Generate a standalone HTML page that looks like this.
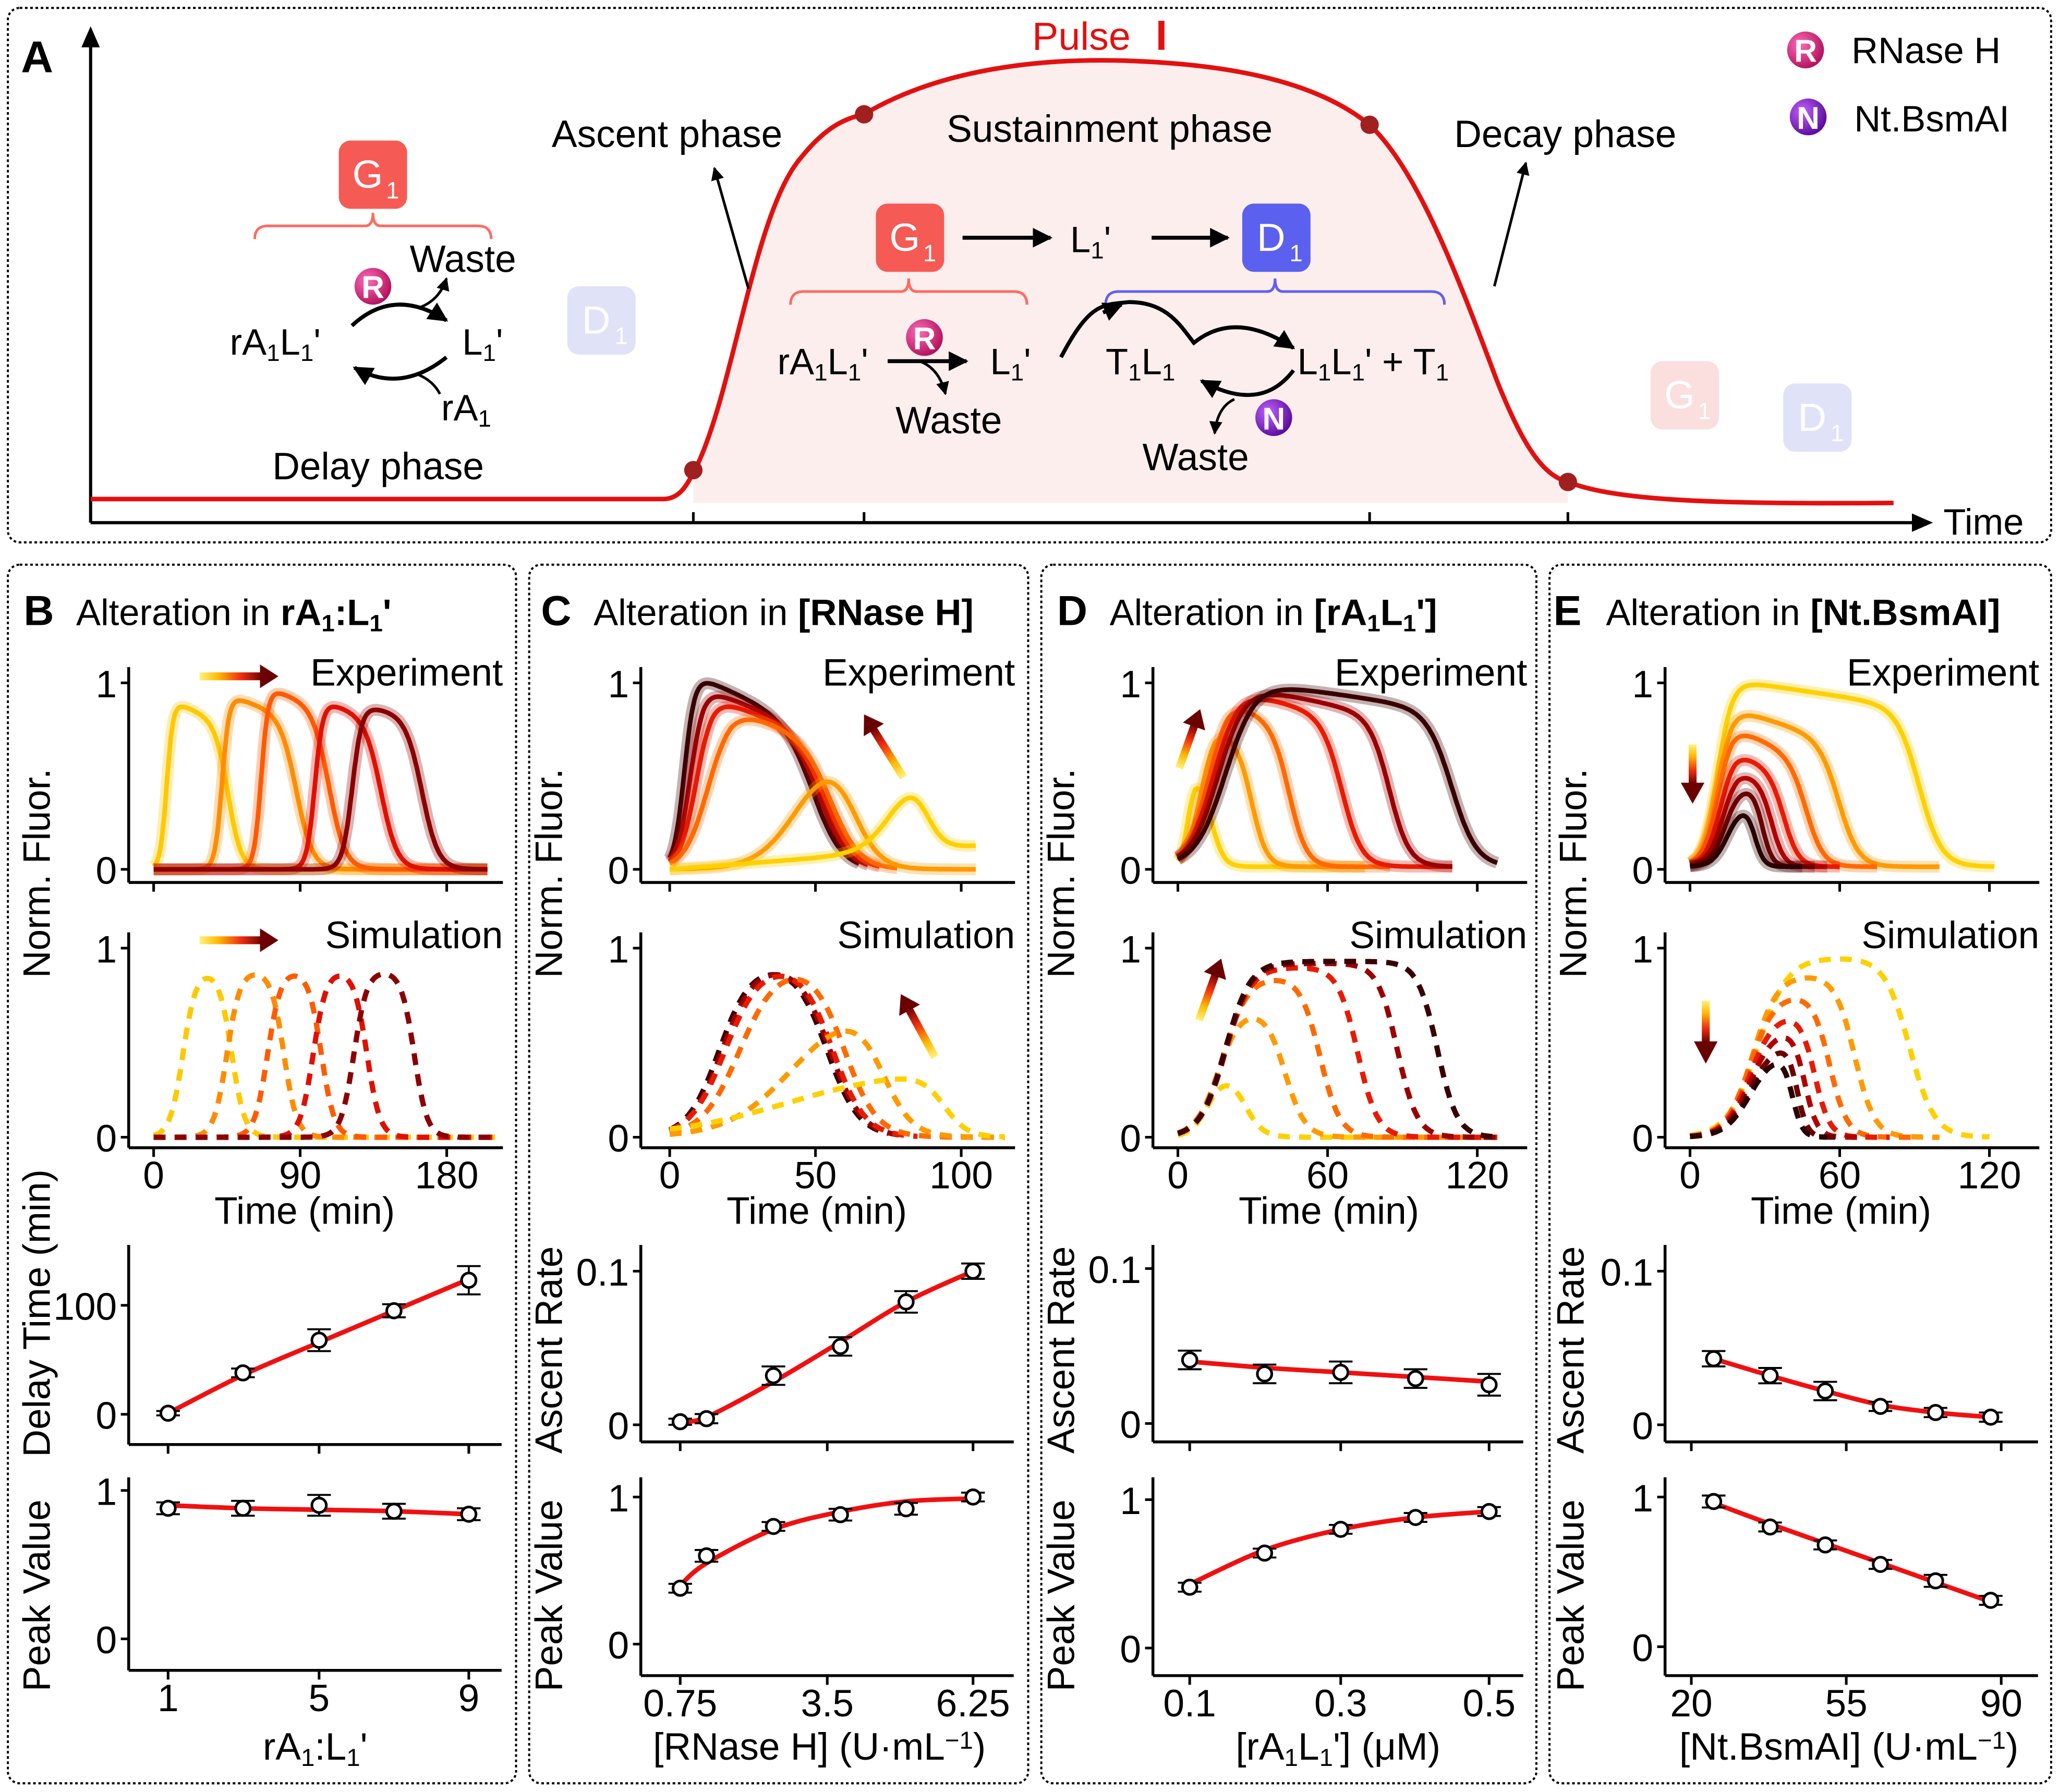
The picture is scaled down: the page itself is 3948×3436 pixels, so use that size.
<!DOCTYPE html>
<html><head><meta charset="utf-8"><style>
html,body{margin:0;padding:0;background:#fff;}
svg{display:block;}
text{font-family:"Liberation Sans Narrow","Liberation Sans",sans-serif;fill:#000;}
</style></head><body>
<svg id="s" xmlns="http://www.w3.org/2000/svg" width="3948" height="3436" viewBox="0 0 1568 1364.6">
<defs>
<linearGradient id="gh" x1="0" y1="0" x2="1" y2="0"><stop offset="0" stop-color="#FFF27A"/><stop offset="0.3" stop-color="#FFB800"/><stop offset="0.65" stop-color="#F03010"/><stop offset="1" stop-color="#6a0000"/></linearGradient>
<linearGradient id="gv" x1="0" y1="0" x2="0" y2="1"><stop offset="0" stop-color="#FFF27A"/><stop offset="0.3" stop-color="#FFB800"/><stop offset="0.65" stop-color="#F03010"/><stop offset="1" stop-color="#6a0000"/></linearGradient>
<radialGradient id="gr" cx="0.35" cy="0.35" r="0.7"><stop offset="0" stop-color="#ff6ab8"/><stop offset="1" stop-color="#b0105a"/></radialGradient>
<radialGradient id="gn" cx="0.35" cy="0.35" r="0.7"><stop offset="0" stop-color="#c060ff"/><stop offset="1" stop-color="#5a0a9a"/></radialGradient>
<marker id="ah" viewBox="0 0 10 10" refX="9" refY="5" markerWidth="5" markerHeight="5" orient="auto"><path d="M0,0L10,5L0,10z" fill="#000"/></marker>
</defs>
<g id="root"></g>
</svg>
<script>
var root=document.getElementById('root'),out=[];
function add(s){out.push(s);}
function T(x,y,s,sz,anc,extra){add('<text x="'+x+'" y="'+y+'" font-size="'+sz+'" text-anchor="'+(anc||'start')+'" '+(extra||'')+'>'+s+'</text>');}
function L(x1,y1,x2,y2,w,c,extra){add('<line x1="'+x1+'" y1="'+y1+'" x2="'+x2+'" y2="'+y2+'" stroke="'+(c||'#000')+'" stroke-width="'+(w||2)+'" '+(extra||'')+'/>');}
function box(x,y,w,h){add('<rect x="'+x+'" y="'+y+'" width="'+w+'" height="'+h+'" rx="9" fill="none" stroke="#000" stroke-width="1.6" stroke-dasharray="2,2"/>');}
var sub=function(s){return '<tspan font-size="0.65em" baseline-shift="-25%">'+s+'</tspan>';};
var sup='<tspan font-size="0.65em" baseline-shift="45%">−1</tspan>';
box(6,6,1556,407);
add('<text x="16" y="55" font-size="34" font-weight="bold" style="font-family:Liberation Sans,sans-serif">A</text>');
L(69,398,69,34,2.4);add('<path d="M62,36L69,20L76,36z"/>');
L(69,398,1458,398,2.4);add('<path d="M1456,391L1472,398L1456,405z"/>');
T(1480,407,'Time',28);
[528,658,1043,1194].forEach(function(x){L(x,398,x,390,2);});
var pd='M69,380 L505,380 C520,380 525,365 532,352 C560,290 575,160 610,120 C630,95 645,90 658,87 C720,50 800,45 850,46 C930,48 1000,60 1043,95 C1080,130 1110,210 1140,290 C1160,340 1175,362 1194,367 C1230,381 1300,384 1442,383';
add('<path d="M528,383 L528,358 C560,290 575,160 610,120 C630,95 645,90 658,87 C720,50 800,45 850,46 C930,48 1000,60 1043,95 C1080,130 1110,210 1140,290 C1160,340 1175,362 1194,367 L1194,383Z" fill="#fdeeee"/>');
add('<path d="'+pd+'" fill="none" stroke="#e31010" stroke-width="3.5"/>');
[[528,358],[658,87],[1043,95],[1194,367]].forEach(function(p){add('<circle cx="'+p[0]+'" cy="'+p[1]+'" r="7" fill="#a02020"/>');});
add('<text x="786" y="38" font-size="30" style="fill:#e31010">Pulse</text>');
add('<text x="880" y="38" font-size="32" font-weight="bold" style="fill:#e31010">I</text>');
T(508,112,'Ascent phase',29,'middle');T(845,108,'Sustainment phase',29,'middle');T(1192,112,'Decay phase',29,'middle');T(288,365,'Delay phase',29,'middle');
add('<line x1="570" y1="220" x2="544" y2="128" stroke="#000" stroke-width="2" marker-end="url(#ah)"/>');
add('<line x1="1138" y1="218" x2="1162" y2="124" stroke="#000" stroke-width="2" marker-end="url(#ah)"/>');
function gbox(x,y,c,lab,tc){add('<rect x="'+x+'" y="'+y+'" width="52" height="52" rx="9" fill="'+c+'"/>');add('<text x="'+(x+22)+'" y="'+(y+36)+'" font-size="30" text-anchor="middle" style="fill:'+tc+'">'+lab+'</text><text x="'+(x+36)+'" y="'+(y+44)+'" font-size="18" style="fill:'+tc+'">1</text>');}
gbox(258,107,'#f65a54','G','#fff');gbox(432,218,'#e0e2f8','D','#fff');gbox(667,155,'#f65a54','G','#fff');gbox(946,155,'#5b60ee','D','#fff');gbox(1257,275,'#fbdede','G','#fff');gbox(1358,292,'#e0e2f8','D','#fff');
function brace(x1,x2,y,c){var m=(x1+x2)/2;add('<path d="M'+x1+','+(y+10)+' Q'+x1+','+y+' '+(x1+10)+','+y+' L'+(m-6)+','+y+' Q'+m+','+y+' '+m+','+(y-10)+' Q'+m+','+y+' '+(m+6)+','+y+' L'+(x2-10)+','+y+' Q'+x2+','+y+' '+x2+','+(y+10)+'" fill="none" stroke="'+c+'" stroke-width="2"/>');}
brace(194,374,172,'#ff6a60');brace(602,782,222,'#ff6a60');brace(842,1100,222,'#6060f0');
function enz(x,y,c,l){add('<circle cx="'+x+'" cy="'+y+'" r="14" fill="url(#'+c+')"/><text x="'+x+'" y="'+(y+9)+'" font-size="24" font-weight="bold" text-anchor="middle" style="fill:#fff;font-family:Liberation Sans,sans-serif">'+l+'</text>');}
enz(1375,38,'gr','R');enz(1377,89,'gn','N');T(1410,48,'RNase H',28);T(1412,100,'Nt.BsmAI',28);
enz(284,218,'gr','R');enz(704,257,'gr','R');enz(970,318,'gn','N');
T(175,270,'rA'+sub('1')+'L'+sub('1')+"'",28);T(352,270,'L'+sub('1')+"'",28);T(336,320,'rA'+sub('1'),28);T(312,207,'Waste',29);
add('<path d="M268,248 Q300,218 340,244" fill="none" stroke="#000" stroke-width="3" marker-end="url(#ah)"/>');
add('<path d="M320,234 Q335,228 340,212" fill="none" stroke="#000" stroke-width="2" marker-end="url(#ah)"/>');
add('<path d="M340,272 Q305,300 270,280" fill="none" stroke="#000" stroke-width="3" marker-end="url(#ah)"/>');
add('<path d="M318,285 Q330,290 335,300" fill="none" stroke="#000" stroke-width="2"/>');
T(592,285,'rA'+sub('1')+'L'+sub('1')+"'",28);T(754,285,'L'+sub('1')+"'",28);T(682,330,'Waste',29);
add('<line x1="676" y1="275" x2="736" y2="275" stroke="#000" stroke-width="3" marker-end="url(#ah)"/>');
add('<path d="M700,275 Q715,280 720,300" fill="none" stroke="#000" stroke-width="2" marker-end="url(#ah)"/>');
T(815,192,'L'+sub('1')+"'",28);
add('<line x1="733" y1="181" x2="800" y2="181" stroke="#000" stroke-width="3" marker-end="url(#ah)"/>');
add('<line x1="877" y1="181" x2="935" y2="181" stroke="#000" stroke-width="3" marker-end="url(#ah)"/>');
T(842,285,'T'+sub('1')+'L'+sub('1'),28);T(988,285,'L'+sub('1')+'L'+sub('1')+"' + T"+sub('1'),28);T(870,358,'Waste',29);
add('<path d="M808,272 C830,230 840,232 860,230 C890,230 900,250 910,262" fill="none" stroke="#000" stroke-width="3"/>');
add('<path d="M840,238 L854,232" stroke="#000" stroke-width="3" marker-end="url(#ah)"/>');
add('<path d="M908,262 Q940,235 985,265" fill="none" stroke="#000" stroke-width="3" marker-end="url(#ah)"/>');
add('<path d="M985,282 Q960,315 915,290" fill="none" stroke="#000" stroke-width="3" marker-end="url(#ah)"/>');
add('<path d="M940,304 Q927,310 925,330" fill="none" stroke="#000" stroke-width="2" marker-end="url(#ah)"/>');

box(6,430,387,928);box(403,430,380,928);box(793,430,377,928);box(1180,430,382,928);
function title(x,L_,rest){add('<text x="'+x+'" y="476" font-size="32" font-weight="bold" style="font-family:Liberation Sans,sans-serif">'+L_+'</text>');add('<text x="'+(x+40)+'" y="476" font-size="28">'+rest+'</text>');}
title(18,'B','Alteration in  <tspan font-weight="bold">rA'+sub('1')+':L'+sub('1')+"'</tspan>");
title(412,'C','Alteration in <tspan font-weight="bold">[RNase H]</tspan>');
title(805,'D','Alteration in <tspan font-weight="bold">[rA'+sub('1')+'L'+sub('1')+"']</tspan>");
title(1183,'E','Alteration in <tspan font-weight="bold">[Nt.BsmAI]</tspan>');

function sig(z){return 1/(1+Math.exp(-z));}
function pulse(p,t){var v=p.P*sig((t-p.a)/p.r)*sig((p.b-t)/p.f);if(p.d)v*=Math.max(0,1-p.d*Math.max(0,t-p.a-2*p.r));if(p.base)v+=p.base*t;return v;}
var pal6=['#FFD000','#FF9A00','#FF6A00','#E81A00','#9a0000','#3a0000'];
var pal5=['#FFC800','#FF8C00','#FF5A00','#E01000','#8B0000'];
function curves(x0,sx,y0,sy,tmax,list,cols,dashed){
 list.forEach(function(p,i){var d='';for(var t=0;t<=(p.tm||tmax);t+=0.5){var v=pulse(p,t);d+=(t?'L':'M')+(x0+t*sx).toFixed(1)+','+(y0-v*sy).toFixed(1);}
 if(!dashed)add('<path d="'+d+'" fill="none" stroke="'+cols[i]+'" stroke-opacity="0.3" stroke-width="9"/>');
 add('<path d="'+d+'" fill="none" stroke="'+cols[i]+'" stroke-width="'+(dashed?4:3.5)+'" '+(dashed?'stroke-dasharray="9,7"':'')+'/>');});
}
function axes(ax,top,bot,right,yt,xt,xlabs){L(ax,top,ax,bot,2.2);L(ax,bot,right,bot,2.2);
 yt.forEach(function(q){L(ax-6,q[1],ax,q[1],2);T(ax-9,q[1]+11,q[0],29,'end');});
 xt.forEach(function(q,i){L(q,bot,q,bot+7,2);if(xlabs)T(q,bot+31,xlabs[i],29,'middle');});}
function ylab(x,y,s){add('<text transform="translate('+x+','+y+') rotate(-90)" font-size="29" text-anchor="middle" style="font-family:Liberation Sans,sans-serif">'+s+'</text>');}
function harrow(x1,x2,y){add('<rect x="'+x1+'" y="'+(y-3)+'" width="'+(x2-x1-12)+'" height="6" fill="url(#gh)"/><path d="M'+(x2-14)+','+(y-9)+'L'+x2+','+y+'L'+(x2-14)+','+(y+9)+'z" fill="#6a0000"/>');}
function darrow(x1,y1,x2,y2){var a=Math.atan2(y2-y1,x2-x1),len=Math.hypot(x2-x1,y2-y1);add('<g transform="translate('+x1+','+y1+') rotate('+(a*180/Math.PI)+')"><rect x="0" y="-3" width="'+(len-12)+'" height="6" fill="url(#gh)"/><path d="M'+(len-14)+',-9L'+len+',0L'+(len-14)+',9z" fill="#6a0000"/></g>');}

var P=[{ax:98,x0:117,sx:1.24,tk:[0,90,180]},{ax:488,x0:510,sx:2.22,tk:[0,50,100]},{ax:878,x0:897,sx:1.9,tk:[0,60,120]},{ax:1268,x0:1287,sx:1.9,tk:[0,60,120]}];
P.forEach(function(p){var xt=p.tk.map(function(t){return p.x0+t*p.sx;});
 axes(p.ax,508,672,p.ax+285,[['1',520],['0',662]],xt,null);
 axes(p.ax,710,874,p.ax+285,[['1',722],['0',866]],xt,p.tk.map(String));
 T(p.ax+134,932,'Time (min)',29,'middle');
 ylab(p.ax-60,665,'Norm. Fluor.');
 T(p.ax+285,522,'Experiment',29,'end');T(p.ax+285,722,'Simulation',29,'end');});
curves(117,1.24,662,142,205,[{P:.9,a:8,r:2,b:46,f:4,d:.004},{P:.93,a:42,r:2.2,b:88,f:5,d:.003},{P:.97,a:66,r:2.2,b:108,f:5,d:.003},{P:.9,a:99,r:2.5,b:140,f:5,d:.003},{P:.88,a:122,r:3,b:165,f:5,d:.002}],pal5,false);
curves(117,1.24,866,144,210,[{P:.88,a:18,r:4,b:48,f:4},{P:.88,a:45,r:4,b:80,f:4},{P:.88,a:70,r:4,b:103,f:4},{P:.88,a:98,r:4,b:131,f:4},{P:.88,a:123,r:4,b:160,f:4}],pal5,true);
harrow(152,212,515);harrow(152,212,716);
var pc=pal6.slice().reverse();
curves(510,2.22,662,142,105,[{P:1.04,a:5,r:1.8,b:50,f:5,d:.0065,tm:65},{P:.97,a:7,r:2.3,b:52,f:5,d:.006,tm:68},{P:.92,a:9,r:2.8,b:54,f:5,d:.006,tm:72},{P:.86,a:13,r:4,b:56,f:5,d:.006,tm:78},{P:.66,a:44,r:7,b:63,f:4.5},{P:.42,a:76,r:5,b:88,f:3,base:.0012}],pc.slice(0,4).concat(['#FF9A00','#FFD000']),false);
curves(510,2.22,866,144,115,[{P:.92,a:17,r:5.5,b:54,f:5.5,tm:75},{P:.92,a:18,r:5.5,b:55,f:5.5,tm:80},{P:.92,a:19,r:6,b:56,f:5.5,tm:85},{P:.92,a:24,r:6.5,b:60,f:5.5},{P:.72,a:42,r:11,b:73,f:5},{P:.36,a:40,r:20,b:94,f:4}],pc.slice(0,4).concat(['#FF9A00','#FFD000']),true);
darrow(688,592,658,544);darrow(712,805,686,757);
curves(897,1.9,660,142,128,[{P:.5,a:4,r:1.5,b:14,f:2.5,d:.02,tm:75},{P:.76,a:9,r:3,b:30,f:3,d:.01,tm:75},{P:.9,a:12,r:4,b:45,f:3.5,d:.007,tm:85},{P:.95,a:14,r:5,b:66,f:4,d:.004,tm:110},{P:.97,a:16,r:5.5,b:85,f:4,d:.003,tm:110},{P:.99,a:19,r:6,b:110,f:5,d:.002}],pal6,false);
curves(897,1.9,866,144,128,[{P:.34,a:12,r:3.5,b:27,f:3.5},{P:.68,a:16,r:4.5,b:43,f:4},{P:.85,a:18,r:5,b:57,f:4},{P:.9,a:19,r:5,b:72,f:4},{P:.92,a:19,r:5,b:88,f:4},{P:.93,a:19,r:5,b:104,f:4}],pal6,true);
darrow(898,585,914,540);darrow(913,777,930,730);
var pe=['#FFD000','#FF9A00','#FF6A00','#E81A00','#b00000','#6a0000','#2a0000'];
curves(1287,1.9,660,142,122,[{P:1.0,a:11,r:3,b:92,f:4.5,d:.002},{P:.85,a:11,r:3,b:60,f:4,d:.005,tm:100},{P:.75,a:11,r:3,b:47,f:3.5,d:.008,tm:75},{P:.62,a:12,r:3,b:38,f:3,d:.01,tm:60},{P:.52,a:13,r:3,b:33,f:2.5,d:.01,tm:55},{P:.43,a:14,r:3,b:29,f:2,tm:50},{P:.33,a:15,r:3,b:26,f:1.8,tm:45}],pe,false);
curves(1287,1.9,866,144,120,[{P:.95,a:27,r:6,b:88,f:5},{P:.86,a:25,r:5,b:66,f:4,tm:100},{P:.76,a:24,r:5,b:56,f:3.5,tm:90},{P:.66,a:24,r:5,b:50,f:3,tm:80},{P:.58,a:24,r:5,b:46,f:2.5,tm:70},{P:.5,a:24,r:5,b:43,f:2,tm:60},{P:.45,a:24,r:5,b:41,f:2,tm:55}],pe,true);
add('<rect x="1286" y="567" width="6" height="30" fill="url(#gv)"/><path d="M1280,596L1289,612L1298,596z" fill="#6a0000"/>');
add('<rect x="1296" y="762" width="6" height="32" fill="url(#gv)"/><path d="M1290,793L1299,810L1308,793z" fill="#6a0000"/>');

function cat(pts){var d='M'+pts[0][0]+','+pts[0][1];for(var i=0;i<pts.length-1;i++){var p0=pts[Math.max(0,i-1)],p1=pts[i],p2=pts[i+1],p3=pts[Math.min(pts.length-1,i+2)];d+=' C'+(p1[0]+(p2[0]-p0[0])/6)+','+(p1[1]+(p2[1]-p0[1])/6)+' '+(p2[0]-(p3[0]-p1[0])/6)+','+(p2[1]-(p3[1]-p1[1])/6)+' '+p2[0]+','+p2[1];}return d;}
function scat(xs,vals,errs,y0,sy,fit){var pts=xs.map(function(x,i){return [x,y0-fit[i]*sy];});add('<path d="'+cat(pts)+'" fill="none" stroke="#f01010" stroke-width="3.5"/>');
 xs.forEach(function(x,i){var y=y0-vals[i]*sy,e=errs[i]*sy;L(x,y-e,x,y+e,1.5);L(x-9,y-e,x+9,y-e,1.5);L(x-9,y+e,x+9,y+e,1.5);add('<circle cx="'+x+'" cy="'+y+'" r="5.5" fill="#fff" stroke="#000" stroke-width="2"/>');});}
axes(98,948,1100,382,[['100',994],['0',1077]],[128,243,357],null);
scat([128,185,243,300,357],[1,38,68,95,123],[2,4,10,6,13],1077,0.83,[1,36,66,95,124]);
axes(98,1125,1272,382,[['1',1135],['0',1248]],[128,243,357],['1','5','9']);
scat([128,185,243,300,357],[.88,.88,.9,.86,.84],[.04,.05,.07,.05,.04],1248,113,[.9,.88,.87,.86,.84]);
ylab(38,1000,'Delay Time (min)');ylab(38,1215,'Peak Value');T(240,1340,'rA'+sub('1')+':L'+sub('1')+"'",29,'middle');
axes(488,948,1098,772,[['0.1',968],['0',1085]],[518,630,741],null);
scat([518,538,589,640,690,741],[.002,.004,.032,.051,.08,.1],[.002,.003,.006,.006,.007,.005],1085,1170,[.002,.005,.028,.054,.08,.1]);
axes(488,1125,1276,772,[['1',1140],['0',1252]],[518,630,741],['0.75','3.5','6.25']);
scat([518,538,589,640,690,741],[.38,.6,.8,.88,.92,1],[.03,.04,.03,.04,.04,.03],1252,112,[.4,.55,.78,.9,.97,.99]);
ylab(428,1028,'Ascent Rate');ylab(428,1215,'Peak Value');T(624,1340,'[RNase H] (U·mL'+sup+')',29,'middle');
axes(878,948,1098,1160,[['0.1',966],['0',1084]],[906,1021,1134],null);
scat([906,963,1021,1078,1134],[.041,.032,.033,.029,.025],[.006,.006,.007,.006,.007],1084,1180,[.04,.036,.033,.03,.027]);
axes(878,1125,1276,1160,[['1',1142],['0',1255]],[906,1021,1134],['0.1','0.3','0.5']);
scat([906,963,1021,1078,1134],[.41,.64,.8,.88,.92],[.03,.03,.03,.03,.03],1255,113,[.43,.66,.8,.88,.92]);
ylab(818,1028,'Ascent Rate');ylab(818,1215,'Peak Value');T(1019,1340,'[rA'+sub('1')+'L'+sub('1')+"'] (μM)",29,'middle');
axes(1268,948,1098,1552,[['0.1',968],['0',1085]],[1288,1406,1524],null);
scat([1305,1348,1390,1432,1474,1516],[.043,.032,.022,.012,.008,.005],[.005,.005,.006,.003,.003,.003],1085,1170,[.043,.032,.022,.013,.008,.005]);
axes(1268,1125,1276,1552,[['1',1140],['0',1254]],[1288,1406,1524],['20','55','90']);
scat([1305,1348,1390,1432,1474,1516],[.97,.8,.68,.55,.44,.31],[.04,.03,.03,.03,.04,.03],1254,114,[.96,.82,.69,.56,.43,.3]);
ylab(1206,1028,'Ascent Rate');ylab(1206,1215,'Peak Value');T(1408,1340,'[Nt.BsmAI] (U·mL'+sup+')',29,'middle');
root.innerHTML=out.join('');
</script>
</body></html>
